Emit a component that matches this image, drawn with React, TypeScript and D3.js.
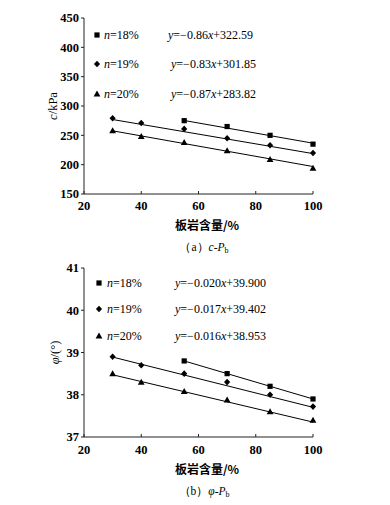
import React from "react";
import * as d3 from "d3";

const xTicks = [20, 40, 60, 80, 100];
const cTicks = [150, 200, 250, 300, 350, 400, 450];
const phiTicks = [37, 38, 39, 40, 41];

const seriesNames = ["18%", "19%", "20%"];
const markerTypes = ["square", "diamond", "triangle"];

const x18 = [55, 70, 85, 100];
const x19 = [30, 40, 55, 70, 85, 100];
const x20 = [30, 40, 55, 70, 85, 100];

const c18 = [275, 265, 250, 235];
const c19 = [279, 271, 261, 245, 233, 220];
const c20 = [258, 248, 238, 224, 209, 194];

const phi18 = [38.8, 38.5, 38.2, 37.9];
const phi19 = [38.9, 38.7, 38.5, 38.3, 38.0, 37.72];
const phi20 = [38.5, 38.3, 38.08, 37.88, 37.6, 37.4];

const cSlope = [-0.86, -0.83, -0.87];
const cIntercept = [322.59, 301.85, 283.82];
const cEqText = ["0.86", "0.83", "0.87"];
const cIntText = ["322.59", "301.85", "283.82"];

const phiSlope = [-0.02, -0.017, -0.016];
const phiIntercept = [39.9, 39.402, 38.953];
const phiEqText = ["0.020", "0.017", "0.016"];
const phiIntText = ["39.900", "39.402", "38.953"];

const SERIF = "Liberation Serif, DejaVu Serif, Times New Roman, serif";
const CJK = "Noto Sans CJK SC, sans-serif";

function Marker({ type, x, y }: { type: string; x: number; y: number }) {
  if (type === "square") return <rect x={x - 2.6} y={y - 2.6} width={5.2} height={5.2} fill="#000" />;
  if (type === "diamond")
    return <path d={`M${x},${y - 3.3}L${x + 3.1},${y}L${x},${y + 3.3}L${x - 3.1},${y}Z`} fill="#000" />;
  return <path d={`M${x},${y - 3.4}L${x + 3.4},${y + 2.6}L${x - 3.4},${y + 2.6}Z`} fill="#000" />;
}

function Panel(props: {
  yDomain: [number, number];
  yRange: [number, number];
  yTicks: number[];
  xs: number[][];
  ys: number[][];
  slope: number[];
  intercept: number[];
  slopeText: string[];
  intText: string[];
  legendY: number[];
  legendMarkerX: number;
  legendTextX: number;
  eqX: number[];
  yLabel: React.ReactNode;
  yLabelX: number;
  xTickY: number;
  xLabelY: number;
  caption: React.ReactNode;
  captionY: number;
}) {
  const x = d3.scaleLinear().domain([20, 100]).range([84, 313]);
  const y = d3.scaleLinear().domain(props.yDomain).range(props.yRange);
  const line = d3
    .line<[number, number]>()
    .x((d) => x(d[0]))
    .y((d) => y(d[1]));
  const [y0, y1] = props.yRange;
  return (
    <g>
      <line x1={x(20)} x2={x(100)} y1={y0} y2={y0} stroke="#222" strokeWidth={1} />
      <line x1={x(20)} x2={x(20)} y1={y0} y2={y1} stroke="#222" strokeWidth={1} />
      {props.yTicks.map((t) => (
        <g key={"y" + t}>
          <line x1={x(20) - 3} x2={x(20)} y1={y(t)} y2={y(t)} stroke="#222" />
          <text
            x={x(20) - 5}
            y={y(t)}
            dy="0.35em"
            textAnchor="end"
            style={{ fontFamily: SERIF, fontWeight: 700, fontSize: 12.5 }}
          >
            {t}
          </text>
        </g>
      ))}
      {xTicks.map((t) => (
        <g key={"x" + t}>
          <line x1={x(t)} x2={x(t)} y1={y0} y2={y0 - 3} stroke="#222" />
          <text
            x={x(t)}
            y={props.xTickY}
            dy="0.35em"
            textAnchor="middle"
            style={{ fontFamily: SERIF, fontWeight: 700, fontSize: 12.5 }}
          >
            {t}
          </text>
        </g>
      ))}
      <text
        x={207}
        y={props.xLabelY}
        dy="0.35em"
        textAnchor="middle"
        style={{ fontFamily: CJK, fontWeight: 700, fontSize: 12 }}
      >
        板岩含量/%
      </text>
      <text
        transform={`translate(${props.yLabelX},${(y0 + y1) / 2}) rotate(-90)`}
        textAnchor="middle"
        dy="0.35em"
        style={{ fontFamily: SERIF, fontSize: 12.5 }}
      >
        {props.yLabel}
      </text>
      <text
        x={204}
        y={props.captionY}
        dy="0.35em"
        textAnchor="middle"
        style={{ fontFamily: SERIF, fontSize: 11.5 }}
      >
        {props.caption}
      </text>
      {props.xs.map((xsArr, i) => {
        const a = xsArr[0];
        const b = xsArr[xsArr.length - 1];
        const pts: [number, number][] = [
          [a, props.slope[i] * a + props.intercept[i]],
          [b, props.slope[i] * b + props.intercept[i]],
        ];
        return <path key={"l" + i} d={line(pts) || ""} stroke="#000" strokeWidth={1} fill="none" />;
      })}
      {props.xs.map((xsArr, i) =>
        xsArr.map((xv, j) => (
          <Marker key={"m" + i + "-" + j} type={markerTypes[i]} x={x(xv)} y={y(props.ys[i][j])} />
        ))
      )}
      {seriesNames.map((s, i) => (
        <g key={"lg" + i}>
          <Marker type={markerTypes[i]} x={props.legendMarkerX} y={props.legendY[i]} />
          <text
            x={props.legendTextX}
            y={props.legendY[i]}
            dy="0.35em"
            style={{ fontFamily: SERIF, fontSize: 12 }}
          >
            <tspan fontStyle="italic">n</tspan>={s}
          </text>
          <text
            x={props.eqX[i]}
            y={props.legendY[i]}
            dy="0.35em"
            style={{ fontFamily: SERIF, fontSize: 12 }}
          >
            <tspan fontStyle="italic">y</tspan>=−{props.slopeText[i]}
            <tspan fontStyle="italic">x</tspan>+{props.intText[i]}
          </text>
        </g>
      ))}
    </g>
  );
}

export default function App() {
  return (
    <svg width={390} height={505} style={{ display: "block", position: "absolute", left: 0, top: 0 }}>
      <rect width={390} height={505} fill="#fff" />
      <Panel
        yDomain={[150, 450]}
        yRange={[194, 18]}
        yTicks={cTicks}
        xs={[x18, x19, x20]}
        ys={[c18, c19, c20]}
        slope={cSlope}
        intercept={cIntercept}
        slopeText={cEqText}
        intText={cIntText}
        legendY={[35, 64, 94]}
        legendMarkerX={97}
        legendTextX={104}
        eqX={[168, 171, 171]}
        yLabel={
          <>
            <tspan fontStyle="italic">c</tspan>/kPa
          </>
        }
        yLabelX={53}
        xTickY={206}
        xLabelY={226}
        caption={
          <>
            （a）<tspan fontStyle="italic">c</tspan>-<tspan fontStyle="italic">P</tspan>
            <tspan fontSize={8} dy="2">b</tspan>
          </>
        }
        captionY={247}
      />
      <Panel
        yDomain={[37, 41]}
        yRange={[437, 268]}
        yTicks={phiTicks}
        xs={[x18, x19, x20]}
        ys={[phi18, phi19, phi20]}
        slope={phiSlope}
        intercept={phiIntercept}
        slopeText={phiEqText}
        intText={phiIntText}
        legendY={[283, 309, 336]}
        legendMarkerX={99}
        legendTextX={107}
        eqX={[175, 175, 175]}
        yLabel={
          <>
            <tspan fontStyle="italic">φ</tspan>/(°)
          </>
        }
        yLabelX={55}
        xTickY={450}
        xLabelY={470}
        caption={
          <>
            （b）<tspan fontStyle="italic">φ</tspan>-<tspan fontStyle="italic">P</tspan>
            <tspan fontSize={8} dy="2">b</tspan>
          </>
        }
        captionY={491}
      />
    </svg>
  );
}
